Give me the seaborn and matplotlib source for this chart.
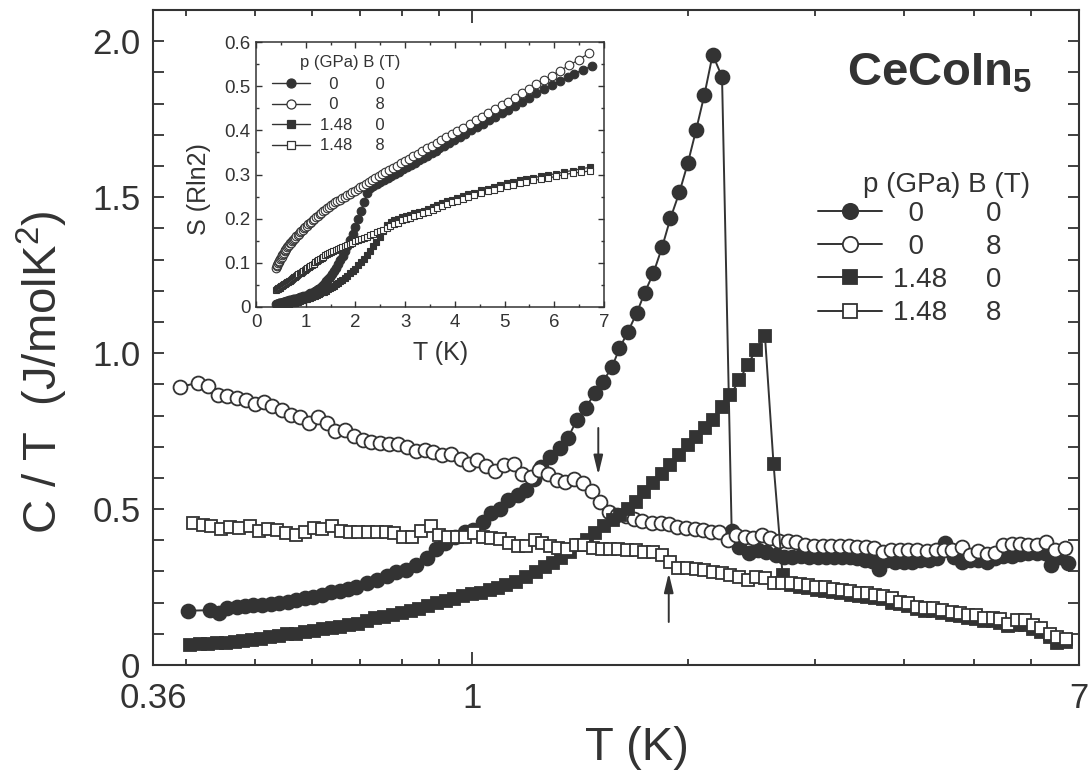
import matplotlib
matplotlib.use("Agg")
import matplotlib.pyplot as plt
import pandas as pd
import seaborn as sns
from matplotlib.lines import Line2D
from matplotlib.ticker import FixedLocator, FixedFormatter, NullFormatter, MultipleLocator

# ---------------------------------------------------------------- data
# p = 0 GPa, B = 0 T (filled circles)
t_a = [0.403, 0.432, 0.445, 0.457, 0.471, 0.483, 0.496, 0.511, 0.526, 0.540,
       0.555, 0.570, 0.586, 0.601, 0.619, 0.637, 0.655, 0.673, 0.691, 0.714,
       0.737, 0.761, 0.785, 0.811, 0.837, 0.865, 0.893, 0.917, 0.947, 0.978,
       1.004, 1.036, 1.064, 1.093, 1.122, 1.159, 1.190, 1.220, 1.250, 1.286,
       1.325, 1.360, 1.400, 1.440, 1.482, 1.522, 1.568, 1.605, 1.649, 1.697,
       1.740, 1.790, 1.840, 1.890, 1.945, 1.998, 2.052, 2.107, 2.164, 2.230,
       2.300, 2.355, 2.430, 2.500, 2.570, 2.650, 2.720, 2.790, 2.870, 2.950,
       3.030, 3.110, 3.190, 3.280, 3.360, 3.440, 3.530, 3.610, 3.690, 3.780,
       3.880, 3.990, 4.100, 4.210, 4.330, 4.440, 4.560, 4.690, 4.810, 4.940,
       5.070, 5.210, 5.350, 5.490, 5.640, 5.800, 5.950, 6.110, 6.270, 6.390,
       6.570, 6.760]
ct_a = [0.174, 0.176, 0.168, 0.182, 0.185, 0.189, 0.192, 0.192, 0.196, 0.198,
        0.203, 0.208, 0.216, 0.219, 0.224, 0.233, 0.238, 0.243, 0.251, 0.262,
        0.272, 0.285, 0.297, 0.304, 0.320, 0.342, 0.371, 0.390, 0.409, 0.425,
        0.433, 0.459, 0.486, 0.499, 0.529, 0.545, 0.561, 0.598, 0.636, 0.668,
        0.695, 0.727, 0.785, 0.823, 0.871, 0.908, 0.956, 1.015, 1.068, 1.129,
        1.193, 1.257, 1.339, 1.432, 1.515, 1.608, 1.715, 1.827, 1.957, 1.886,
        0.430, 0.379, 0.360, 0.369, 0.363, 0.353, 0.347, 0.347, 0.349, 0.347,
        0.345, 0.347, 0.347, 0.347, 0.345, 0.342, 0.337, 0.335, 0.307, 0.337,
        0.331, 0.331, 0.331, 0.337, 0.337, 0.342, 0.390, 0.347, 0.331, 0.337,
        0.337, 0.331, 0.342, 0.350, 0.350, 0.356, 0.358, 0.360, 0.358, 0.321,
        0.345, 0.326]
s_a = [0.006, 0.007, 0.007, 0.008, 0.008, 0.009, 0.009, 0.010, 0.010, 0.011,
       0.011, 0.012, 0.012, 0.013, 0.013, 0.014, 0.014, 0.015, 0.015, 0.016,
       0.017, 0.017, 0.018, 0.019, 0.020, 0.021, 0.022, 0.023, 0.024, 0.025,
       0.026, 0.028, 0.029, 0.031, 0.032, 0.034, 0.036, 0.038, 0.040, 0.044,
       0.048, 0.053, 0.058, 0.063, 0.069, 0.075, 0.082, 0.089, 0.097, 0.106,
       0.115, 0.126, 0.138, 0.151, 0.166, 0.182, 0.199, 0.217, 0.237, 0.257,
       0.270, 0.274, 0.278, 0.283, 0.287, 0.292, 0.297, 0.301, 0.306, 0.312,
       0.317, 0.322, 0.327, 0.333, 0.338, 0.343, 0.349, 0.354, 0.359, 0.365,
       0.371, 0.378, 0.385, 0.392, 0.400, 0.407, 0.415, 0.423, 0.431, 0.439,
       0.447, 0.456, 0.465, 0.474, 0.484, 0.494, 0.503, 0.512, 0.521, 0.528,
       0.537, 0.546]

# p = 0 GPa, B = 8 T (open circles)
t_b = [0.393, 0.416, 0.430, 0.444, 0.457, 0.471, 0.485, 0.499, 0.514, 0.528,
       0.544, 0.560, 0.576, 0.593, 0.610, 0.628, 0.646, 0.666, 0.686, 0.706,
       0.725, 0.746, 0.768, 0.790, 0.813, 0.835, 0.860, 0.884, 0.910, 0.936,
       0.965, 0.991, 1.018, 1.048, 1.078, 1.109, 1.144, 1.174, 1.208, 1.242,
       1.277, 1.312, 1.350, 1.386, 1.427, 1.469, 1.509, 1.552, 1.594, 1.637,
       1.682, 1.727, 1.780, 1.832, 1.881, 1.932, 1.985, 2.045, 2.097, 2.153,
       2.211, 2.272, 2.330, 2.401, 2.466, 2.532, 2.600, 2.676, 2.757, 2.831,
       2.907, 2.995, 3.082, 3.165, 3.250, 3.345, 3.437, 3.537, 3.632, 3.730,
       3.830, 3.940, 4.050, 4.160, 4.300, 4.420, 4.540, 4.660, 4.810, 4.940,
       5.070, 5.210, 5.350, 5.490, 5.640, 5.800, 5.950, 6.110, 6.300, 6.490,
       6.690]
ct_b = [0.892, 0.905, 0.894, 0.865, 0.862, 0.855, 0.849, 0.836, 0.844, 0.830,
        0.817, 0.801, 0.794, 0.777, 0.794, 0.775, 0.751, 0.753, 0.734, 0.721,
        0.716, 0.712, 0.708, 0.708, 0.700, 0.687, 0.691, 0.684, 0.673, 0.676,
        0.662, 0.644, 0.657, 0.639, 0.623, 0.641, 0.646, 0.614, 0.604, 0.625,
        0.612, 0.593, 0.588, 0.598, 0.584, 0.559, 0.524, 0.491, 0.481, 0.478,
        0.467, 0.462, 0.456, 0.456, 0.452, 0.443, 0.440, 0.435, 0.433, 0.427,
        0.427, 0.401, 0.417, 0.409, 0.406, 0.417, 0.406, 0.398, 0.398, 0.395,
        0.385, 0.381, 0.381, 0.381, 0.381, 0.381, 0.377, 0.379, 0.374, 0.363,
        0.369, 0.369, 0.369, 0.369, 0.366, 0.369, 0.369, 0.369, 0.379, 0.353,
        0.366, 0.356, 0.358, 0.385, 0.388, 0.388, 0.385, 0.385, 0.395, 0.369,
        0.374]
s_b = [0.088, 0.093, 0.096, 0.099, 0.102, 0.105, 0.108, 0.111, 0.114, 0.117,
       0.120, 0.123, 0.126, 0.129, 0.132, 0.135, 0.138, 0.141, 0.144, 0.146,
       0.149, 0.152, 0.155, 0.157, 0.160, 0.163, 0.166, 0.169, 0.172, 0.175,
       0.178, 0.181, 0.184, 0.187, 0.190, 0.193, 0.197, 0.200, 0.203, 0.206,
       0.210, 0.213, 0.217, 0.220, 0.224, 0.227, 0.231, 0.234, 0.237, 0.240,
       0.243, 0.246, 0.250, 0.253, 0.256, 0.260, 0.263, 0.267, 0.271, 0.275,
       0.279, 0.284, 0.288, 0.292, 0.296, 0.301, 0.305, 0.310, 0.315, 0.320,
       0.325, 0.331, 0.336, 0.342, 0.347, 0.353, 0.359, 0.365, 0.372, 0.378,
       0.384, 0.391, 0.398, 0.406, 0.415, 0.423, 0.431, 0.439, 0.449, 0.457,
       0.465, 0.474, 0.484, 0.494, 0.504, 0.514, 0.524, 0.535, 0.547, 0.560,
       0.574]

# p = 1.48 GPa, B = 0 T (filled squares)
t_c = [0.405, 0.418, 0.430, 0.442, 0.455, 0.468, 0.481, 0.495, 0.509, 0.524,
       0.539, 0.554, 0.570, 0.586, 0.603, 0.620, 0.638, 0.656, 0.675, 0.694,
       0.714, 0.734, 0.755, 0.777, 0.799, 0.822, 0.845, 0.869, 0.894, 0.920,
       0.946, 0.973, 1.001, 1.030, 1.059, 1.089, 1.117, 1.153, 1.190, 1.227,
       1.263, 1.297, 1.332, 1.368, 1.408, 1.445, 1.486, 1.529, 1.570, 1.608,
       1.648, 1.693, 1.738, 1.785, 1.837, 1.889, 1.945, 1.997, 2.052, 2.112,
       2.164, 2.230, 2.290, 2.357, 2.420, 2.487, 2.559, 2.630, 2.708, 2.785,
       2.860, 2.940, 3.020, 3.100, 3.180, 3.270, 3.370, 3.460, 3.550, 3.640,
       3.740, 3.840, 3.940, 4.050, 4.160, 4.270, 4.390, 4.520, 4.660, 4.780,
       4.910, 5.040, 5.160, 5.310, 5.440, 5.580, 5.730, 5.880, 6.040, 6.200,
       6.370, 6.530, 6.710]
ct_c = [0.064, 0.066, 0.068, 0.070, 0.072, 0.074, 0.077, 0.080, 0.085, 0.090,
        0.094, 0.098, 0.101, 0.105, 0.110, 0.114, 0.118, 0.122, 0.127, 0.132,
        0.142, 0.150, 0.154, 0.160, 0.166, 0.173, 0.180, 0.188, 0.198, 0.204,
        0.212, 0.221, 0.228, 0.232, 0.240, 0.248, 0.255, 0.267, 0.283, 0.299,
        0.315, 0.326, 0.342, 0.363, 0.385, 0.401, 0.422, 0.446, 0.465, 0.481,
        0.499, 0.524, 0.555, 0.584, 0.612, 0.641, 0.673, 0.705, 0.730, 0.760,
        0.787, 0.828, 0.865, 0.913, 0.962, 1.010, 1.055, 0.646, 0.288, 0.255,
        0.250, 0.246, 0.242, 0.238, 0.234, 0.230, 0.226, 0.222, 0.219, 0.215,
        0.211, 0.200, 0.195, 0.190, 0.180, 0.173, 0.172, 0.166, 0.160, 0.156,
        0.150, 0.148, 0.142, 0.140, 0.134, 0.124, 0.128, 0.128, 0.115, 0.105,
        0.090, 0.072, 0.074]
s_c = [0.002, 0.002, 0.002, 0.003, 0.003, 0.003, 0.003, 0.004, 0.004, 0.004,
       0.005, 0.005, 0.005, 0.006, 0.006, 0.006, 0.007, 0.007, 0.008, 0.008,
       0.009, 0.009, 0.010, 0.010, 0.011, 0.012, 0.012, 0.013, 0.014, 0.015,
       0.016, 0.017, 0.018, 0.019, 0.020, 0.021, 0.022, 0.024, 0.025, 0.027,
       0.029, 0.031, 0.033, 0.035, 0.037, 0.040, 0.042, 0.045, 0.048, 0.051,
       0.054, 0.058, 0.062, 0.066, 0.071, 0.076, 0.081, 0.087, 0.094, 0.101,
       0.108, 0.117, 0.126, 0.137, 0.148, 0.159, 0.172, 0.186, 0.193, 0.197,
       0.200, 0.203, 0.206, 0.209, 0.212, 0.215, 0.218, 0.222, 0.226, 0.230,
       0.235, 0.239, 0.243, 0.247, 0.251, 0.255, 0.259, 0.264, 0.268, 0.272,
       0.276, 0.280, 0.283, 0.287, 0.290, 0.293, 0.296, 0.299, 0.302, 0.306,
       0.309, 0.313, 0.316]

# p = 1.48 GPa, B = 8 T (open squares)
t_d = [0.409, 0.422, 0.434, 0.448, 0.461, 0.475, 0.491, 0.506, 0.521, 0.536,
       0.552, 0.569, 0.586, 0.603, 0.619, 0.638, 0.657, 0.676, 0.695, 0.716,
       0.737, 0.760, 0.780, 0.803, 0.826, 0.849, 0.877, 0.901, 0.926, 0.953,
       0.980, 1.008, 1.035, 1.065, 1.094, 1.126, 1.158, 1.190, 1.224, 1.252,
       1.285, 1.320, 1.357, 1.397, 1.434, 1.475, 1.516, 1.557, 1.599, 1.645,
       1.690, 1.739, 1.790, 1.838, 1.887, 1.939, 1.995, 2.050, 2.107, 2.169,
       2.228, 2.288, 2.355, 2.425, 2.490, 2.557, 2.635, 2.703, 2.785, 2.860,
       2.938, 3.017, 3.100, 3.180, 3.273, 3.365, 3.460, 3.550, 3.640, 3.740,
       3.840, 3.940, 4.050, 4.160, 4.270, 4.390, 4.520, 4.660, 4.780, 4.910,
       5.040, 5.160, 5.310, 5.440, 5.580, 5.730, 5.880, 6.040, 6.200, 6.370,
       6.530, 6.710]
ct_d = [0.456, 0.448, 0.446, 0.435, 0.441, 0.438, 0.446, 0.431, 0.435, 0.433,
        0.424, 0.417, 0.425, 0.438, 0.435, 0.446, 0.431, 0.428, 0.428, 0.428,
        0.428, 0.428, 0.422, 0.409, 0.411, 0.431, 0.446, 0.417, 0.409, 0.409,
        0.409, 0.422, 0.409, 0.407, 0.403, 0.392, 0.382, 0.381, 0.400, 0.390,
        0.381, 0.374, 0.371, 0.385, 0.385, 0.374, 0.371, 0.371, 0.371, 0.369,
        0.369, 0.361, 0.361, 0.353, 0.331, 0.312, 0.310, 0.307, 0.304, 0.299,
        0.294, 0.288, 0.283, 0.272, 0.283, 0.278, 0.264, 0.264, 0.264, 0.260,
        0.256, 0.251, 0.249, 0.243, 0.240, 0.238, 0.232, 0.230, 0.224, 0.221,
        0.214, 0.203, 0.198, 0.187, 0.182, 0.182, 0.177, 0.171, 0.166, 0.160,
        0.160, 0.152, 0.152, 0.146, 0.133, 0.143, 0.143, 0.128, 0.118, 0.101,
        0.090, 0.082]
s_d = [0.039, 0.040, 0.041, 0.042, 0.043, 0.044, 0.046, 0.047, 0.048, 0.049,
       0.050, 0.052, 0.053, 0.054, 0.056, 0.057, 0.059, 0.060, 0.062, 0.063,
       0.065, 0.067, 0.068, 0.070, 0.072, 0.074, 0.076, 0.078, 0.080, 0.082,
       0.084, 0.086, 0.088, 0.091, 0.093, 0.096, 0.098, 0.101, 0.104, 0.106,
       0.109, 0.111, 0.114, 0.117, 0.119, 0.122, 0.124, 0.127, 0.129, 0.131,
       0.134, 0.136, 0.138, 0.141, 0.143, 0.146, 0.149, 0.151, 0.154, 0.156,
       0.159, 0.162, 0.166, 0.169, 0.172, 0.175, 0.179, 0.183, 0.187, 0.191,
       0.196, 0.199, 0.202, 0.205, 0.209, 0.212, 0.216, 0.220, 0.225, 0.229,
       0.233, 0.237, 0.241, 0.245, 0.249, 0.253, 0.258, 0.263, 0.266, 0.270,
       0.274, 0.277, 0.281, 0.284, 0.287, 0.289, 0.292, 0.296, 0.300, 0.303,
       0.305, 0.308]

pressure_labels = ["0", "0", "1.48", "1.48"]
field_labels = ["0", "8", "0", "8"]

# axis ticks
x_major = [0.36, 1, 7]
x_major_labels = ["0.36", "1", "7"]
x_minor = [0.4, 0.5, 0.6, 0.7, 0.8, 0.9, 2, 3, 4, 5, 6]
y_major = [0, 0.5, 1.0, 1.5, 2.0]
y_major_labels = ["0", "0.5", "1.0", "1.5", "2.0"]
inset_x_major = [0, 1, 2, 3, 4, 5, 6, 7]
inset_y_major = [0, 0.1, 0.2, 0.3, 0.4, 0.5, 0.6]
inset_y_labels = ["0", "0.1", "0.2", "0.3", "0.4", "0.5", "0.6"]

# arrows marking the anomalies: (T, C/T start, C/T tip)
arrow_down = (1.50, 0.76, 0.61)
arrow_up = (1.88, 0.138, 0.295)

# ---------------------------------------------------------------- style
sns.set_theme(style="ticks")
INK = "#333333"
plt.rcParams["font.family"] = ["Liberation Sans", "DejaVu Sans"]
plt.rcParams["mathtext.default"] = "regular"
plt.rcParams["text.color"] = INK
plt.rcParams["axes.labelcolor"] = INK
plt.rcParams["xtick.color"] = INK
plt.rcParams["ytick.color"] = INK

series = [
    dict(t=t_a, ct=ct_a, s=s_a, marker="o", face=INK),
    dict(t=t_b, ct=ct_b, s=s_b, marker="o", face="white"),
    dict(t=t_c, ct=ct_c, s=s_c, marker="s", face=INK),
    dict(t=t_d, ct=ct_d, s=s_d, marker="s", face="white"),
]
main_size = {"o": 10.0, "s": 8.6}
inset_size = {"o": 6.2, "s": 5.0}

fig = plt.figure(figsize=(10.88, 7.78), dpi=100)
ax = fig.add_axes([0.1406, 0.1452, 0.8511, 0.8419])
ax.set_xscale("log")

for k, sr in enumerate(series):
    df = pd.DataFrame({"T": sr["t"], "CT": sr["ct"]})
    sns.lineplot(data=df, x="T", y="CT", ax=ax, sort=False, estimator=None,
                 color=INK, linewidth=1.4, marker=sr["marker"],
                 markersize=main_size[sr["marker"]], markerfacecolor=sr["face"],
                 markeredgecolor=INK, markeredgewidth=1.3, legend=False,
                 zorder=3 + k)

ax.set_xlim(0.36, 7)
ax.set_ylim(0, 2.1)
ax.xaxis.set_major_locator(FixedLocator(x_major))
ax.xaxis.set_major_formatter(FixedFormatter(x_major_labels))
ax.xaxis.set_minor_locator(FixedLocator(x_minor))
ax.xaxis.set_minor_formatter(NullFormatter())
ax.yaxis.set_major_locator(FixedLocator(y_major))
ax.yaxis.set_major_formatter(FixedFormatter(y_major_labels))
ax.yaxis.set_minor_locator(MultipleLocator(0.1))
ax.tick_params(which="both", direction="in", top=True, right=True,
               color=INK, width=1.3)
ax.tick_params(axis="x", which="major", length=9.5, pad=12, labelsize=25)
ax.tick_params(axis="x", which="minor", length=4.5)
ax.tick_params(axis="y", which="both", length=8)
ax.tick_params(axis="y", which="major", pad=9, labelsize=25)
for sp in ax.spines.values():
    sp.set_linewidth(1.5)
    sp.set_color(INK)

ax.set_xlabel("T (K)", fontsize=34)
ax.xaxis.set_label_coords(0.523, -0.093)
ax.set_ylabel("C / T  (J/molK$^2$)", fontsize=34)
ax.yaxis.set_label_coords(-0.09, 0.447)

ax.text(0.749, 0.885, "CeCoIn$_5$", transform=ax.transAxes, fontsize=34,
        fontweight="bold", ha="left", va="baseline")

for (tx, y0, y1) in (arrow_down, arrow_up):
    ax.annotate("", xy=(tx, y1), xytext=(tx, y0),
                arrowprops=dict(arrowstyle="-|>,head_length=0.58,head_width=0.14",
                                color=INK, lw=1.4, shrinkA=0, shrinkB=0,
                                mutation_scale=20),
                zorder=10)


def legend_labels():
    out = []
    for p, b in zip(pressure_labels, field_labels):
        if len(p) == 1:
            out.append("  " + p + " " * 8 + b)
        else:
            out.append(p + " " * 5 + b)
    return out


def legend_handles(sizes, lw, mew):
    return [Line2D([], [], color=INK, lw=lw, marker=sr["marker"],
                   markersize=sizes[sr["marker"]], markerfacecolor=sr["face"],
                   markeredgecolor=INK, markeredgewidth=mew) for sr in series]


ax.legend(legend_handles({"o": 11, "s": 9.5}, 1.4, 1.3), legend_labels(),
          loc="upper left", bbox_to_anchor=(0.718, 0.709), frameon=False,
          fontsize=20, handlelength=2.3, handletextpad=0.4, labelspacing=0.26,
          borderpad=0, borderaxespad=0)
ax.text(0.767, 0.722, "p (GPa) B (T)", transform=ax.transAxes, fontsize=20,
        ha="left", va="baseline")

# ---------------------------------------------------------------- inset
axi = fig.add_axes([0.2353, 0.6054, 0.3199, 0.3406])
axi.set_facecolor("white")
axi.set_zorder(20)
for k, sr in enumerate(series):
    df = pd.DataFrame({"T": sr["t"], "S": sr["s"]})
    sns.lineplot(data=df, x="T", y="S", ax=axi, sort=False, estimator=None,
                 color=INK, linewidth=0.9, marker=sr["marker"],
                 markersize=inset_size[sr["marker"]], markerfacecolor=sr["face"],
                 markeredgecolor=INK, markeredgewidth=0.8, legend=False,
                 zorder=3 + k)
axi.set_xlim(0, 7)
axi.set_ylim(0, 0.6)
axi.xaxis.set_major_locator(FixedLocator(inset_x_major))
axi.xaxis.set_minor_locator(MultipleLocator(0.5))
axi.yaxis.set_major_locator(FixedLocator(inset_y_major))
axi.yaxis.set_major_formatter(FixedFormatter(inset_y_labels))
axi.yaxis.set_minor_locator(MultipleLocator(0.05))
axi.tick_params(which="both", direction="in", top=True, right=True,
                color=INK, width=1.0)
axi.tick_params(which="major", length=4, labelsize=13.5)
axi.tick_params(which="minor", length=2.2)
axi.tick_params(axis="x", which="major", pad=5)
axi.tick_params(axis="y", which="major", pad=4)
for sp in axi.spines.values():
    sp.set_linewidth(1.1)
    sp.set_color(INK)
axi.set_xlabel("T (K)", fontsize=18)
axi.xaxis.set_label_coords(0.529, -0.13)
axi.set_ylabel("S (Rln2)", fontsize=18)
axi.yaxis.set_label_coords(-0.13, 0.445)

axi.legend(legend_handles({"o": 6.5, "s": 5.5}, 1.0, 0.9), legend_labels(),
           loc="upper left", bbox_to_anchor=(0.046, 0.868), frameon=False,
           fontsize=12, handlelength=2.3, handletextpad=0.6, labelspacing=0.33,
           borderpad=0, borderaxespad=0)
axi.text(0.126, 0.905, "p (GPa) B (T)", transform=axi.transAxes, fontsize=12,
         ha="left", va="baseline")

fig.savefig("out.png", dpi=100)
